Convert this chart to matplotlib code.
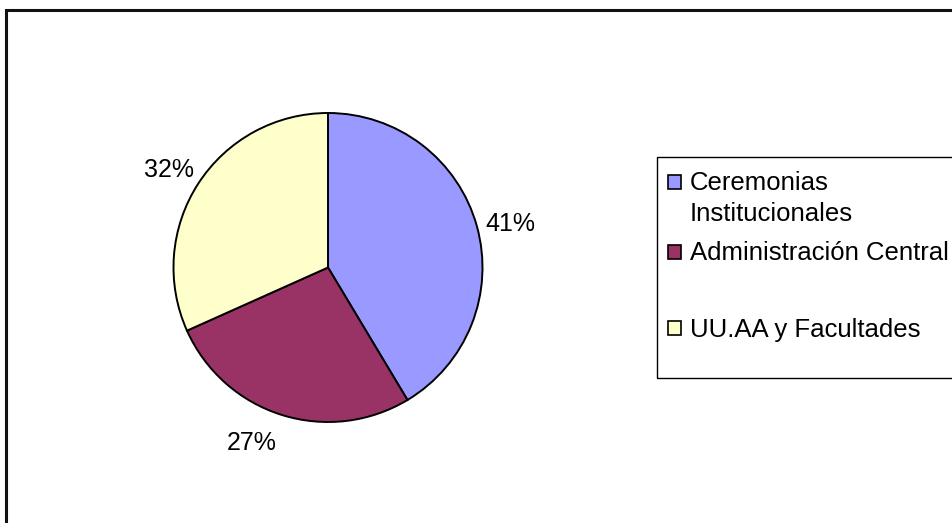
import matplotlib
matplotlib.use("Agg")
import matplotlib.pyplot as plt
import numpy as np
from matplotlib.patches import Rectangle

categories = ["Ceremonias\nInstitucionales", "Administración Central", "UU.AA y Facultades"]
values = [41.4, 26.9, 31.7]
colors = ["#9999FF", "#993366", "#FFFFCC"]

W, H = 953, 523
plt.rcParams['font.family'] = ['Liberation Sans', 'DejaVu Sans']
fig = plt.figure(figsize=(W / 100, H / 100), dpi=100)
fig.patch.set_facecolor("white")

def fx(x):
    return x / W

def fy(y):
    return 1 - y / H

# outer chart border (top and left visible, rest clipped)
fig.add_artist(Rectangle((fx(6), fy(540)), fx(1000), 530 / H, transform=fig.transFigure,
                         fill=False, edgecolor="#111111", linewidth=2.2))

# pie
cx, cy, r = 328, 267.5, 154.5
ax = fig.add_axes([fx(cx - r), fy(cy + r), 2 * r / W, 2 * r / H])
wedges, texts, autotexts = ax.pie(values, colors=colors, startangle=90, counterclock=False,
                                  autopct='%1.0f%%', pctdistance=1.22,
                                  wedgeprops=dict(edgecolor="black", linewidth=1.4),
                                  textprops=dict(fontsize=18, color="black"))
ax.set_xlim(-1, 1)
ax.set_ylim(-1, 1)
ax.set_aspect("equal")
ax.axis("off")

# Excel-like label placement: small angular nudges off the wedge mid-angle
label_nudge_deg = [-2.0, -6.0, 1.5]
label_dist = [1.215, 1.24, 1.21]
for w, t, nd, dist in zip(wedges, autotexts, label_nudge_deg, label_dist):
    ang = np.deg2rad((w.theta1 + w.theta2) / 2 + nd)
    t.set_position((dist * np.cos(ang), dist * np.sin(ang)))
    t.set_ha("center")
    t.set_va("center")

# legend box
fig.add_artist(Rectangle((fx(657), fy(378)), fx(400), (378 - 157) / H, transform=fig.transFigure,
                         fill=False, edgecolor="black", linewidth=1.0))
legend_rows = [182, 252, 328]
sq = 13.5
for label, color, yr in zip(categories, colors, legend_rows):
    fig.add_artist(Rectangle((fx(668), fy(yr + sq / 2)), sq / W, sq / H, transform=fig.transFigure,
                             facecolor=color, edgecolor="black", linewidth=1.2))
    fig.text(fx(690), fy(yr - 10.5), label, fontsize=18.5, va="top", ha="left", linespacing=1.35)

fig.savefig("out.png", dpi=100)
